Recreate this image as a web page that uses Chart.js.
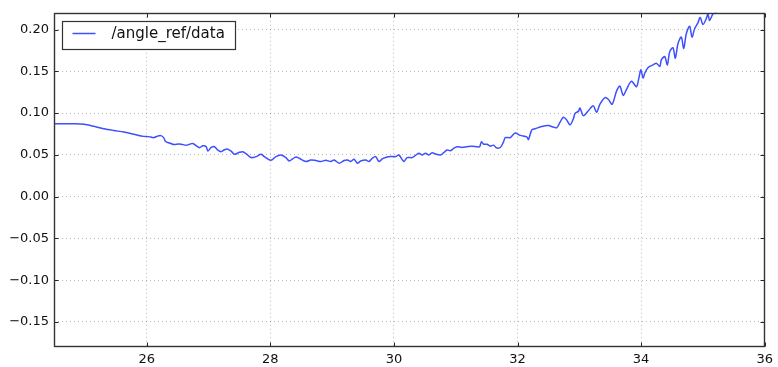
<!DOCTYPE html>
<html>
<head>
<meta charset="utf-8">
<script src="https://cdn.jsdelivr.net/npm/chart.js@4/dist/chart.umd.min.js"></script>
<style>
html,body{margin:0;padding:0;background:#fff;}
canvas{display:block;}
</style>
</head>
<body>
<canvas id="c" width="778" height="367"></canvas>
<script>
const seriesLabel = '/angle_ref/data';
const xValues = [24.5,24.661,24.823,24.984,25.145,25.306,25.468,25.629,25.790,25.952,26.032,26.113,26.177,26.226,26.274,26.306,26.371,26.435,26.516,
26.560,26.640,26.694,26.747,26.802,26.855,26.908,26.963,26.989,27.044,27.097,27.150,27.205,27.258,27.311,27.366,27.419,27.500,27.553,27.608,27.689,27.769,27.850,27.903,28.011,28.092,28.173,28.253,28.306,28.360,28.415,
28.468,28.576,28.656,28.737,28.818,28.898,28.979,29.032,29.113,29.194,29.247,29.302,29.355,29.408,29.463,29.544,29.597,29.650,29.705,29.758,29.811,29.866,29.947,30.027,30.081,30.161,30.215,30.295,
30.403,30.456,30.511,30.565,30.618,30.673,30.753,30.806,30.860,30.915,30.968,31.021,31.102,31.182,31.263,31.344,31.387,31.415,31.452,31.505,31.560,31.613,31.656,31.721,31.774,31.802,31.882,31.963,32.044,32.150,32.177,32.231,32.285,
32.392,32.500,32.581,32.634,32.689,32.742,32.795,32.850,32.903,32.931,32.984,33.011,33.065,33.145,33.226,33.279,33.334,33.415,33.468,33.532,33.602,33.656,33.710,33.763,33.844,33.924,33.965,
33.995,34.032,34.060,34.113,34.194,34.247,34.302,34.327,34.382,34.424,34.463,34.516,34.553,34.597,34.650,34.689,34.731,34.785,34.823,34.866,34.919,34.956,35.000,35.053,35.081,35.108,35.161,35.215,35.274,35.35];
const yValues = [0.0871,0.0871,0.0871,0.0865,0.0841,0.0812,0.0791,0.0773,0.0747,0.0721,0.0718,0.0706,0.0724,0.0730,0.0706,0.0659,0.0641,0.0624,0.0630,
0.0627,0.0616,0.0627,0.0636,0.0608,0.0585,0.0608,0.0597,0.0545,0.0588,0.0597,0.0557,0.0538,0.0561,0.0568,0.0545,0.0506,0.0530,0.0538,0.0514,0.0467,0.0479,0.0506,0.0479,0.0435,0.0479,0.0498,0.0467,0.0427,0.0451,0.0474,
0.0459,0.0420,0.0439,0.0432,0.0420,0.0435,0.0420,0.0439,0.0400,0.0432,0.0439,0.0420,0.0447,0.0400,0.0427,0.0439,0.0420,0.0459,0.0479,0.0420,0.0451,0.0467,0.0479,0.0479,0.0498,0.0420,0.0467,0.0467,
0.0518,0.0498,0.0518,0.0498,0.0526,0.0510,0.0498,0.0526,0.0557,0.0550,0.0577,0.0597,0.0588,0.0597,0.0604,0.0597,0.0597,0.0656,0.0627,0.0627,0.0604,0.0616,0.0585,0.0588,0.0656,0.0706,0.0706,0.0761,0.0733,0.0714,0.0683,0.0800,0.0812,
0.0839,0.0851,0.0832,0.0824,0.0891,0.0950,0.0918,0.0859,0.0930,0.0997,0.1020,0.1059,0.0969,0.1027,0.1086,0.1009,0.1106,0.1185,0.1165,0.1106,0.1263,0.1322,0.1212,0.1283,0.1380,0.1315,0.1424,
0.1518,0.1421,0.1479,0.1545,0.1577,0.1597,0.1557,0.1636,0.1675,0.1577,0.1734,0.1781,0.1656,0.1832,0.1910,0.1774,0.1950,0.2040,0.1910,0.2009,0.2080,0.2145,0.2060,0.2127,0.2186,0.2107,0.2186,0.2204,0.2260,0.235];
const xTicks = [26, 28, 30, 32, 34, 36];
const yTicks = [-0.15, -0.10, -0.05, 0.00, 0.05, 0.10, 0.15, 0.20];
const xRange = [24.5, 36];
const yRange = [-0.18, 0.22];

const lineColor = '#3d4fff';
const FONT = '"DejaVu Sans", sans-serif';

const framePlugin = {
  id: 'frame',
  afterDraw(chart) {
    const {ctx, chartArea: a, scales: {x, y}} = chart;
    ctx.save();
    ctx.strokeStyle = '#222';
    ctx.lineWidth = 1;
    ctx.beginPath();
    const L = Math.round(a.left) + 0.5, R = Math.round(a.right) - 0.5;
    const T = Math.round(a.top) + 0.5, B = Math.round(a.bottom) - 0.5;
    x.ticks.forEach(t => {
      const px = Math.round(x.getPixelForValue(t.value)) + 0.5;
      ctx.moveTo(px, B); ctx.lineTo(px, B - 4);
      ctx.moveTo(px, T); ctx.lineTo(px, T + 4);
    });
    y.ticks.forEach(t => {
      const py = Math.round(y.getPixelForValue(t.value)) + 0.5;
      ctx.moveTo(L, py); ctx.lineTo(L + 4, py);
      ctx.moveTo(R, py); ctx.lineTo(R - 4, py);
    });
    ctx.stroke();
    ctx.strokeStyle = '#333';
    ctx.lineWidth = 1.4;
    ctx.strokeRect(L, T, R - L, B - T);
    // legend
    const bx = Math.round(a.left) + 8.5, by = Math.round(a.top) + 8.5;
    ctx.fillStyle = '#fff';
    ctx.fillRect(bx, by, 173, 28);
    ctx.strokeStyle = '#333';
    ctx.lineWidth = 1.2;
    ctx.strokeRect(bx, by, 173, 28);
    ctx.strokeStyle = lineColor;
    ctx.lineWidth = 1.5;
    ctx.beginPath();
    ctx.moveTo(bx + 10, by + 12); ctx.lineTo(bx + 33, by + 12);
    ctx.stroke();
    ctx.fillStyle = '#111';
    ctx.font = '15px ' + FONT;
    ctx.textBaseline = 'middle';
    ctx.textAlign = 'left';
    ctx.fillText(chart.data.datasets[0].label, bx + 49, by + 13);
    ctx.restore();
  }
};

new Chart(document.getElementById('c'), {
  type: 'line',
  data: {
    datasets: [{
      label: seriesLabel,
      data: xValues.map((v, i) => ({x: v, y: yValues[i]})),
      borderColor: lineColor,
      borderWidth: 1.5,
      pointRadius: 0,
      tension: 0.3,
      fill: false
    }]
  },
  options: {
    responsive: false,
    animation: false,
    devicePixelRatio: 1,
    layout: {padding: {top: 7, right: 9, left: 0, bottom: 0}},
    plugins: {legend: {display: false}, tooltip: {enabled: false}},
    scales: {
      x: {
        type: 'linear',
        min: xRange[0], max: xRange[1],
        afterBuildTicks: s => { s.ticks = xTicks.map(v => ({value: v})); },
        afterFit: s => { s.height = 20; },
        grid: {color: 'rgba(0,0,0,0.28)', lineWidth: 1, drawTicks: false},
        border: {display: false, dash: [1, 3]},
        ticks: {padding: 5, color: '#111', font: {family: FONT, size: 13}, maxRotation: 0,
          callback: v => String(v)}
      },
      y: {
        type: 'linear',
        min: yRange[0], max: yRange[1],
        afterBuildTicks: s => { s.ticks = yTicks.map(v => ({value: v})); },
        afterFit: s => { s.width = 54; },
        grid: {color: 'rgba(0,0,0,0.28)', lineWidth: 1, drawTicks: false},
        border: {display: false, dash: [1, 3]},
        ticks: {padding: 5, color: '#111', font: {family: FONT, size: 13},
          callback: v => (v < -1e-9 ? '\u2212' : '') + Math.abs(v).toFixed(2)}
      }
    }
  },
  plugins: [framePlugin]
});
</script>
</body>
</html>
